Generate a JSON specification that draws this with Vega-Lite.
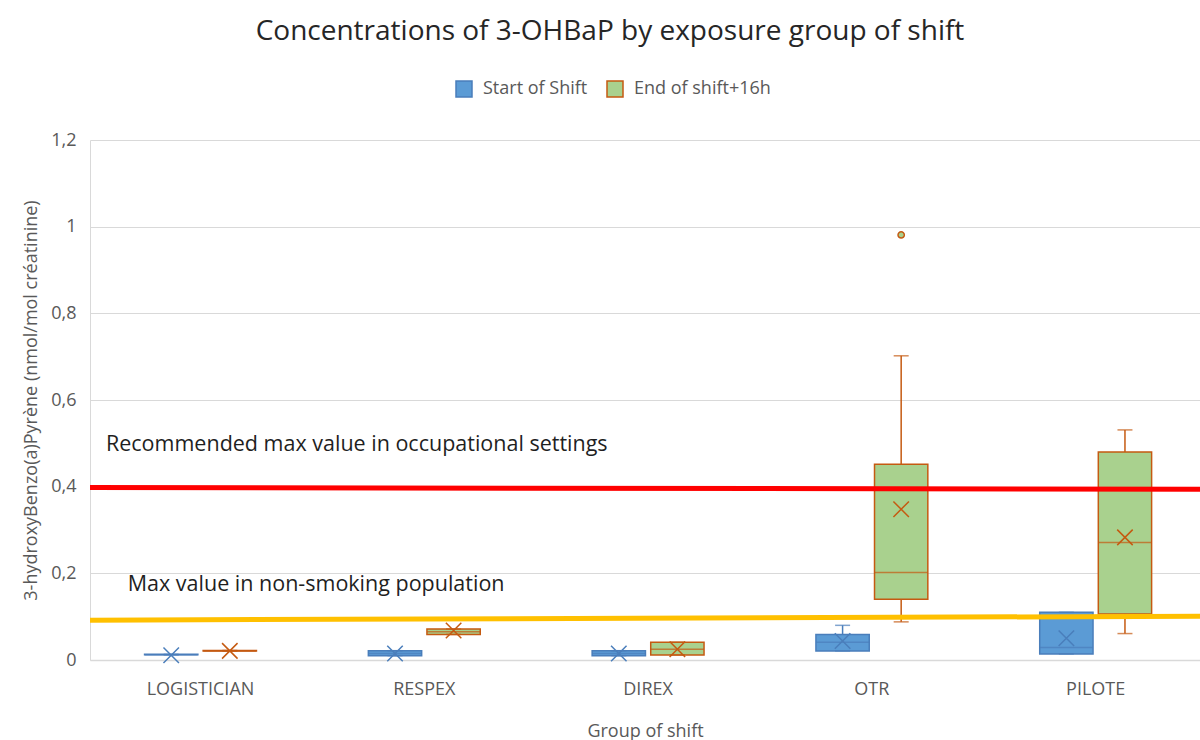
{
  "$schema": "https://vega.github.io/schema/vega-lite/v6.json",
  "width": 1110,
  "height": 520,
  "autosize": "none",
  "padding": {"left": 90, "top": 140, "right": 0, "bottom": 80},
  "background": "white",
  "config": {
    "font": "Open Sans",
    "view": {"stroke": null}
  },
  "title": {
    "text": "Concentrations of 3-OHBaP by exposure group of shift",
    "fontSize": 28,
    "fontWeight": "normal",
    "color": "#262626",
    "anchor": "middle",
    "dx": -35,
    "offset": 34
  },
  "datasets": {
    "boxes": [
      {"group": "LOGISTICIAN", "series": "Start of Shift", "min": 0.012, "q1": 0.012, "median": 0.012, "q3": 0.013, "max": 0.013, "mean": 0.011},
      {"group": "LOGISTICIAN", "series": "End of shift+16h", "min": 0.021, "q1": 0.021, "median": 0.021, "q3": 0.022, "max": 0.022, "mean": 0.021},
      {"group": "RESPEX", "series": "Start of Shift", "min": 0.010, "q1": 0.010, "median": 0.015, "q3": 0.0215, "max": 0.0215, "mean": 0.015},
      {"group": "RESPEX", "series": "End of shift+16h", "min": 0.059, "q1": 0.059, "median": 0.065, "q3": 0.0715, "max": 0.0715, "mean": 0.068},
      {"group": "DIREX", "series": "Start of Shift", "min": 0.010, "q1": 0.010, "median": 0.015, "q3": 0.0215, "max": 0.0215, "mean": 0.015},
      {"group": "DIREX", "series": "End of shift+16h", "min": 0.0115, "q1": 0.0115, "median": 0.025, "q3": 0.041, "max": 0.041, "mean": 0.025},
      {"group": "OTR", "series": "Start of Shift", "min": 0.021, "q1": 0.021, "median": 0.041, "q3": 0.059, "max": 0.080, "mean": 0.044},
      {"group": "OTR", "series": "End of shift+16h", "min": 0.088, "q1": 0.140, "median": 0.202, "q3": 0.452, "max": 0.702, "mean": 0.348},
      {"group": "PILOTE", "series": "Start of Shift", "min": 0.014, "q1": 0.014, "median": 0.029, "q3": 0.110, "max": 0.110, "mean": 0.050},
      {"group": "PILOTE", "series": "End of shift+16h", "min": 0.061, "q1": 0.106, "median": 0.271, "q3": 0.480, "max": 0.531, "mean": 0.283}
    ],
    "outliers": [
      {"group": "OTR", "series": "End of shift+16h", "value": 0.981}
    ],
    "refs": [
      {"line": "occupational", "t": 0, "v": 0.398},
      {"line": "occupational", "t": 1, "v": 0.394},
      {"line": "nonsmoking", "t": 0, "v": 0.092},
      {"line": "nonsmoking", "t": 1, "v": 0.101}
    ],
    "notes": [
      {"label": "Recommended max value in occupational settings", "t": 0.0144, "v": 0.497},
      {"label": "Max value in non-smoking population", "t": 0.034, "v": 0.172}
    ]
  },
  "layer": [
    {
      "data": {"name": "boxes"},
      "encoding": {
        "x": {
          "field": "group",
          "type": "nominal",
          "scale": {"domain": ["LOGISTICIAN", "RESPEX", "DIREX", "OTR", "PILOTE"], "paddingInner": 0.5, "paddingOuter": 0.23, "align": 0.53},
          "title": "Group of shift",
          "axis": {
            "labelAngle": 0,
            "labelFontSize": 18,
            "labelColor": "#595959",
            "labelPadding": 20,
            "ticks": false,
            "domain": true,
            "domainColor": "#D9D9D9",
            "domainWidth": 1.5,
            "grid": false,
            "titleFontSize": 18,
            "titleFontWeight": "normal",
            "titleColor": "#595959",
            "titlePadding": 24
          }
        },
        "xOffset": {
          "field": "series",
          "type": "nominal",
          "scale": {"domain": ["Start of Shift", "End of shift+16h"], "paddingInner": 0.09, "paddingOuter": 0}
        }
      },
      "layer": [
        {
          "mark": {"type": "rule", "strokeWidth": 1.5},
          "encoding": {
            "y": {"field": "min", "type": "quantitative", "scale": {"domain": [0, 1.2], "nice": false}, "axis": null},
            "y2": {"field": "max"},
            "color": {"field": "series", "type": "nominal", "scale": {"domain": ["Start of Shift", "End of shift+16h"], "range": ["#4A7EBB", "#C55A11"]}, "legend": null}
          }
        },
        {
          "mark": {"type": "bar", "strokeWidth": 1.5},
          "encoding": {
            "y": {"field": "q1", "type": "quantitative", "scale": {"domain": [0, 1.2], "nice": false}, "axis": null},
            "y2": {"field": "q3"},
            "fill": {
              "field": "series",
              "type": "nominal",
              "scale": {"domain": ["Start of Shift", "End of shift+16h"], "range": ["#5B9BD5", "#A9D18E"]},
              "legend": {
                "title": null,
                "orient": "none",
                "direction": "horizontal",
                "legendX": 365,
                "legendY": -60,
                "symbolType": "square",
                "symbolSize": 256,
                "symbolStrokeWidth": 1.5,
                "labelFontSize": 18,
                "labelColor": "#595959",
                "labelOffset": 10,
                "columnPadding": 16
              }
            },
            "stroke": {
              "field": "series",
              "type": "nominal",
              "scale": {"domain": ["Start of Shift", "End of shift+16h"], "range": ["#4A7EBB", "#C55A11"]},
              "legend": {
                "title": null,
                "orient": "none",
                "direction": "horizontal",
                "legendX": 365,
                "legendY": -60,
                "symbolType": "square",
                "symbolSize": 256,
                "symbolStrokeWidth": 1.5,
                "labelFontSize": 18,
                "labelColor": "#595959",
                "labelOffset": 10,
                "columnPadding": 16
              }
            }
          }
        },
        {
          "mark": {"type": "tick", "thickness": 1.5, "size": 53},
          "encoding": {
            "y": {"field": "median", "type": "quantitative", "scale": {"domain": [0, 1.2], "nice": false}, "axis": null},
            "color": {"field": "series", "type": "nominal", "scale": {"domain": ["Start of Shift", "End of shift+16h"], "range": ["#4A7EBB", "#C55A11"]}, "legend": null}
          }
        },
        {
          "mark": {"type": "tick", "thickness": 1.5, "size": 15},
          "encoding": {
            "y": {"field": "max", "type": "quantitative", "scale": {"domain": [0, 1.2], "nice": false}, "axis": null},
            "color": {"field": "series", "type": "nominal", "scale": {"domain": ["Start of Shift", "End of shift+16h"], "range": ["#4A7EBB", "#C55A11"]}, "legend": null}
          }
        },
        {
          "mark": {"type": "tick", "thickness": 1.5, "size": 15},
          "encoding": {
            "y": {"field": "min", "type": "quantitative", "scale": {"domain": [0, 1.2], "nice": false}, "axis": null},
            "color": {"field": "series", "type": "nominal", "scale": {"domain": ["Start of Shift", "End of shift+16h"], "range": ["#4A7EBB", "#C55A11"]}, "legend": null}
          }
        },
        {
          "mark": {"type": "point", "shape": "M-1,-1L1,1M-1,1L1,-1", "filled": false, "size": 240, "strokeWidth": 1.5, "opacity": 1},
          "encoding": {
            "y": {"field": "mean", "type": "quantitative", "scale": {"domain": [0, 1.2], "nice": false}, "axis": null},
            "color": {"field": "series", "type": "nominal", "scale": {"domain": ["Start of Shift", "End of shift+16h"], "range": ["#4A7EBB", "#C55A11"]}, "legend": null}
          }
        },
        {
          "data": {"name": "outliers"},
          "mark": {"type": "point", "shape": "circle", "filled": true, "size": 40, "fill": "#A9D18E", "stroke": "#C55A11", "strokeWidth": 1.5, "opacity": 1},
          "encoding": {
            "y": {"field": "value", "type": "quantitative", "scale": {"domain": [0, 1.2], "nice": false}, "axis": null}
          }
        }
      ]
    },
    {
      "encoding": {
        "x": {"field": "t", "type": "quantitative", "scale": {"domain": [0, 1], "nice": false, "zero": false}, "axis": null},
        "y": {
          "field": "v",
          "type": "quantitative",
          "scale": {"domain": [0, 1.2], "nice": false},
          "title": "3-hydroxyBenzo(a)Pyrène (nmol/mol créatinine)",
          "axis": {
            "values": [0, 0.2, 0.4, 0.6, 0.8, 1, 1.2],
            "labelExpr": "replace(format(datum.value, '.1~f'), '.', ',')",
            "grid": true,
            "gridColor": "#D9D9D9",
            "gridWidth": 1,
            "domain": true,
            "domainColor": "#D9D9D9",
            "ticks": false,
            "labelFontSize": 18,
            "labelColor": "#595959",
            "labelPadding": 14,
            "titleFontSize": 18,
            "titleFontWeight": "normal",
            "titleColor": "#595959",
            "titlePadding": 10
          }
        }
      },
      "layer": [
        {
          "data": {"name": "refs"},
          "mark": {"type": "line", "strokeWidth": 5},
          "encoding": {
            "color": {"field": "line", "type": "nominal", "scale": {"domain": ["occupational", "nonsmoking"], "range": ["#FF0000", "#FFC000"]}, "legend": null}
          }
        },
        {
          "data": {"name": "notes"},
          "mark": {"type": "text", "align": "left", "baseline": "middle", "fontSize": 21.5, "color": "#1F1F1F"},
          "encoding": {
            "text": {"field": "label", "type": "nominal"}
          }
        }
      ]
    }
  ],
  "resolve": {"scale": {"x": "independent", "color": "independent"}, "axis": {"y": "independent"}}
}
